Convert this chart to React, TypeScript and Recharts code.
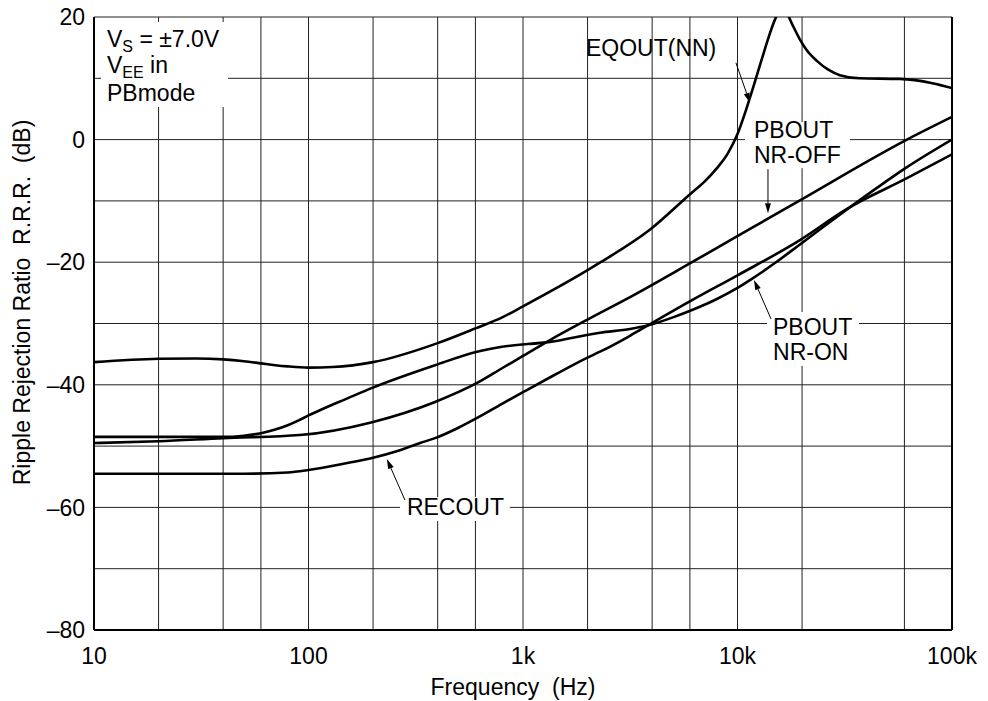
import React from 'react';
import { LineChart, Line, XAxis, YAxis, CartesianGrid, ReferenceLine, ReferenceDot } from 'recharts';

// ---- data ----
const eqoutFreq = [10, 20, 30, 40, 50, 60, 70, 80, 100, 130, 200, 400, 600, 800, 1000, 2000, 2300, 3900, 6100, 7000, 8000, 9000, 10000, 11000, 12000, 13000, 14000, 15000, 16000, 17000, 18000, 19500, 21000, 23500, 26500, 30000, 37000, 57000, 81000, 100000];
const eqoutDb = [-36.3, -35.75, -35.7, -35.85, -36.15, -36.5, -36.8, -37.0, -37.2, -37.1, -36.3, -33.2, -30.8, -29.0, -27.2, -21.3, -20, -14.7, -8.7, -6.9, -4.7, -2.3, 0.9, 5.0, 9.2, 13.2, 16.8, 19.7, 21.3, 20.6, 18.8, 16.4, 14.6, 12.8, 11.4, 10.5, 10, 9.9, 9.2, 8.4];

const nrOffFreq = [10, 20, 40, 91, 198, 389, 611, 798, 1000, 1336, 1987, 3155, 6138, 19550, 61660, 100000];
const nrOffDb = [-49.5, -49.2, -48.7, -48.2, -46.1, -42.8, -39.7, -37.3, -35.3, -32.7, -29.4, -25.7, -20, -9.9, 0, 3.7];

const nrOnFreq = [10, 20, 40, 50, 60, 70, 80, 90, 100, 117, 150, 198, 389, 611, 798, 1336, 2286, 3155, 3828, 5000, 6138, 8017, 10000, 11810, 15000, 19550, 25000, 32380, 45000, 61660, 100000];
const nrOnDb = [-48.5, -48.5, -48.5, -48.3, -47.9, -47.3, -46.6, -45.8, -45.0, -43.9, -42.3, -40.5, -36.8, -34.6, -33.8, -33, -31.5, -30.9, -30.3, -29.0, -27.8, -26.0, -24.2, -22.6, -20.1, -17.1, -14.3, -11.4, -7.8, -4.5, 0];

const recoutFreq = [10, 50, 80, 100, 150, 200, 260, 331, 389, 500, 611, 798, 1000, 1400, 1987, 2286, 3155, 3828, 6138, 10050, 19550, 32380, 61660, 100000];
const recoutDb = [-54.5, -54.5, -54.3, -53.9, -52.8, -51.9, -50.8, -49.5, -48.7, -47, -45.4, -43.1, -41.2, -38.4, -35.6, -34.6, -32, -30.3, -26.2, -22.1, -16.4, -11.3, -6.3, -2.4];

const xTicks = [10, 100, 1000, 10000, 100000];
const xTickLabels = ['10', '100', '1k', '10k', '100k'];
const yTicks = [-80, -60, -40, -20, 0, 20];
const gridFreqs = [10, 20, 40, 60, 80, 100, 200, 400, 600, 800, 1000, 2000, 4000, 6000, 8000, 10000, 20000, 40000, 60000, 80000, 100000];
const gridDb = [-80, -70, -60, -50, -40, -30, -20, -10, 0, 10, 20];

const zip = (f: number[], d: number[]) => f.map((x, i) => ({ f: x, db: d[i] }));
const eqoutData = zip(eqoutFreq, eqoutDb);
const nrOffData = zip(nrOffFreq, nrOffDb);
const nrOnData = zip(nrOnFreq, nrOnDb);
const recoutData = zip(recoutFreq, recoutDb);

const FONT = "'Liberation Sans', Arial, Helvetica, sans-serif";
const FS = 23;

function Arrow({ x1, y1, x2, y2 }: { x1: number; y1: number; x2: number; y2: number }) {
  const dx = x2 - x1, dy = y2 - y1;
  const L = Math.hypot(dx, dy);
  const ux = dx / L, uy = dy / L;
  const hl = 10, hw = 3;
  const bx = x2 - ux * hl, by = y2 - uy * hl;
  const pts = `${x2},${y2} ${bx - uy * hw},${by + ux * hw} ${bx + uy * hw},${by - ux * hw}`;
  return (
    <g>
      <line x1={x1} y1={y1} x2={bx} y2={by} stroke="#000" strokeWidth={1} />
      <polygon points={pts} fill="#000" />
    </g>
  );
}

const txt = { fontFamily: FONT, fontSize: FS, fill: '#000' } as const;

const CondBox = (p: any) => {
  const { cx, cy } = p;
  return (
    <g>
      <rect x={cx + 7} y={cy + 5} width={127} height={85} fill="#fff" />
      <text x={cx + 13} y={cy + 30} {...txt} style={{ whiteSpace: 'pre' }}>
        <tspan>V</tspan>
        <tspan dy={5} fontSize={16}>S</tspan>
        <tspan dy={-5}> = ±7.0V</tspan>
      </text>
      <text x={cx + 13} y={cy + 56} {...txt} style={{ whiteSpace: 'pre' }}>
        <tspan>V</tspan>
        <tspan dy={5} fontSize={16}>EE</tspan>
        <tspan dy={-5}> in</tspan>
      </text>
      <text x={cx + 13} y={cy + 84} {...txt}>PBmode</text>
    </g>
  );
};

const EqoutLabel = (p: any) => {
  const { cx, cy } = p;
  return (
    <g>
      <text x={cx - 164} y={cy - 47} {...txt}>EQOUT(NN)</text>
      <Arrow x1={cx - 14} y1={cy - 40} x2={cx} y2={cy} />
    </g>
  );
};

const NrOffLabel = (p: any) => {
  const { cx, cy } = p;
  return (
    <g>
      <rect x={cx - 23} y={cy - 91} width={105} height={46} fill="#fff" />
      <text x={cx - 14} y={cy - 75} {...txt}>PBOUT</text>
      <text x={cx - 14} y={cy - 50} {...txt}>NR-OFF</text>
      <Arrow x1={cx} y1={cy - 44} x2={cx} y2={cy} />
    </g>
  );
};

const NrOnLabel = (p: any) => {
  const { cx, cy } = p;
  return (
    <g>
      <rect x={cx + 13} y={cy + 32} width={92} height={54} fill="#fff" />
      <text x={cx + 19} y={cy + 55} {...txt}>PBOUT</text>
      <text x={cx + 19} y={cy + 80} {...txt}>NR-ON</text>
      <Arrow x1={cx + 17} y1={cy + 39} x2={cx} y2={cy} />
    </g>
  );
};

const RecoutLabel = (p: any) => {
  const { cx, cy } = p;
  return (
    <g>
      <rect x={cx + 13} y={cy + 38} width={110} height={24} fill="#fff" />
      <text x={cx + 20} y={cy + 56} {...txt}>RECOUT</text>
      <Arrow x1={cx + 18} y1={cy + 41} x2={cx} y2={cy} />
    </g>
  );
};

const fmtY = (v: number) => (v < 0 ? '\u2013' + Math.abs(v) : String(v));
const fmtX = (v: number) => {
  const i = xTicks.indexOf(v);
  return i >= 0 ? xTickLabels[i] : String(v);
};

export default function App() {
  return (
    <div style={{ position: 'absolute', left: 0, top: 0, width: 988, height: 701, background: '#fff' }}>
      <LineChart width={988} height={701} margin={{ top: 17, right: 36, bottom: 0, left: 0 }}>
        <CartesianGrid
          stroke="#222"
          strokeWidth={1}
          horizontalValues={gridDb}
          verticalValues={gridFreqs}
        />
        <XAxis
          dataKey="f"
          type="number"
          scale="log"
          domain={[10, 100000]}
          ticks={xTicks}
          tickFormatter={fmtX}
          allowDataOverflow
          height={71}
          tickLine={false}
          tickSize={6}
          tickMargin={12}
          axisLine={{ stroke: '#000', strokeWidth: 2 }}
          tick={{ fontFamily: FONT, fontSize: FS, fill: '#000' }}
          label={{
            content: (props: any) => {
              const vb = props.viewBox || { x: 94, y: 630, width: 858 };
              return (
                <text x={vb.x + vb.width / 2 - 10} y={vb.y + 65} textAnchor="middle" {...txt} style={{ whiteSpace: 'pre' }}>
                  Frequency  (Hz)
                </text>
              );
            },
          }}
        />
        <YAxis
          type="number"
          domain={[-80, 20]}
          ticks={yTicks}
          tickFormatter={fmtY}
          allowDataOverflow
          width={94}
          tickLine={false}
          tickSize={6}
          tickMargin={3}
          axisLine={{ stroke: '#000', strokeWidth: 2 }}
          tick={{ fontFamily: FONT, fontSize: FS, fill: '#000' }}
          label={{
            content: (props: any) => {
              const vb = props.viewBox || { x: 0, y: 17, width: 94, height: 613 };
              const cy = vb.y + vb.height / 2 - 21;
              const cx = vb.x + 30;
              return (
                <text x={cx} y={cy} textAnchor="middle" transform={`rotate(-90, ${cx}, ${cy})`} {...txt} style={{ whiteSpace: 'pre' }}>
                  Ripple Rejection Ratio  R.R.R.  (dB)
                </text>
              );
            },
          }}
        />
        <ReferenceLine x={100000} stroke="#000" strokeWidth={2} />
        <Line data={eqoutData} dataKey="db" type="monotone" stroke="#000" strokeWidth={2.6} dot={false} isAnimationActive={false} />
        <Line data={nrOffData} dataKey="db" type="monotone" stroke="#000" strokeWidth={2.6} dot={false} isAnimationActive={false} />
        <Line data={nrOnData} dataKey="db" type="monotone" stroke="#000" strokeWidth={2.6} dot={false} isAnimationActive={false} />
        <Line data={recoutData} dataKey="db" type="monotone" stroke="#000" strokeWidth={2.6} dot={false} isAnimationActive={false} />
        <ReferenceDot x={10} y={20} r={0} shape={CondBox} />
        <ReferenceDot x={11430} y={6} r={0} shape={EqoutLabel} />
        <ReferenceDot x={13870} y={-12} r={0} shape={NrOffLabel} />
        <ReferenceDot x={11940} y={-22.9} r={0} shape={NrOnLabel} />
        <ReferenceDot x={232} y={-52.1} r={0} shape={RecoutLabel} />
      </LineChart>
    </div>
  );
}
